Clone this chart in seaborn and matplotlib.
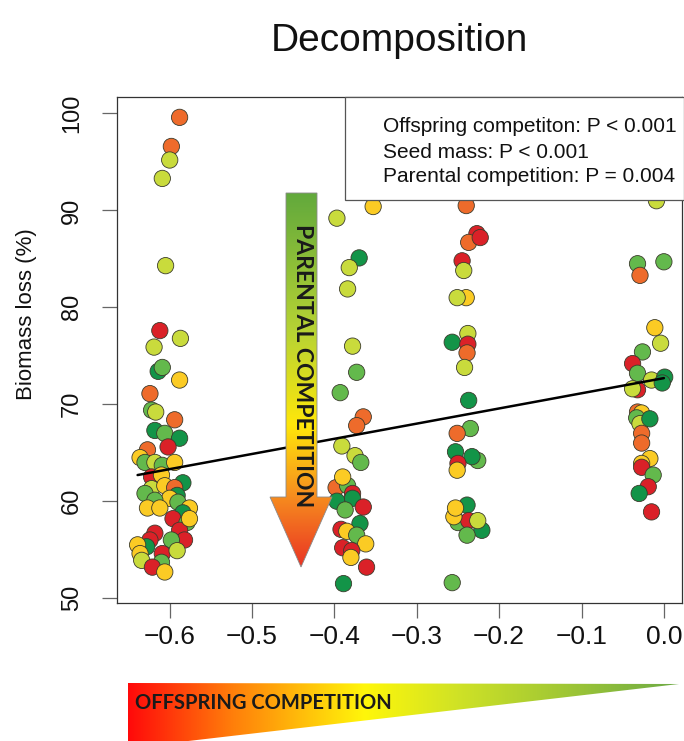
#!/usr/bin/env python3
"""Biomass loss vs offspring competition (decomposition panel)
"""

import matplotlib
matplotlib.use("Agg")
import numpy as np
import pandas as pd
import matplotlib.pyplot as plt
from matplotlib.patches import Polygon, Rectangle
from matplotlib.colors import LinearSegmentedColormap
import seaborn as sns

# colour class of each point (red .. dark green)
palette = {"R": "#DA2128", "O": "#EE6B2B", "Y": "#FBCB24", "L": "#C9DB3C",
           "G": "#63B94C", "D": "#139448"}

# cluster around -0.6
c1_x = [-0.588, -0.598, -0.600, -0.609, -0.605, -0.612, -0.619, -0.587, -0.614, -0.609,
        -0.588, -0.624, -0.622, -0.617, -0.594, -0.618, -0.606, -0.588, -0.602, -0.627,
        -0.636, -0.630, -0.618, -0.609, -0.594, -0.622, -0.610, -0.584, -0.622, -0.606,
        -0.594, -0.630, -0.591, -0.600, -0.618, -0.627, -0.612, -0.590, -0.576, -0.584,
        -0.596, -0.579, -0.588, -0.576, -0.618, -0.624, -0.582, -0.598, -0.628, -0.639,
        -0.636, -0.609, -0.591, -0.634, -0.610, -0.621, -0.606]
c1_y = [99.6, 96.6, 95.2, 93.3, 84.3, 77.6, 75.9, 76.8, 73.4, 73.8,
        72.5, 71.1, 69.4, 69.2, 68.4, 67.3, 67.0, 66.5, 65.6, 65.3,
        64.5, 64.0, 64.0, 63.7, 64.0, 62.5, 62.7, 61.9, 61.3, 61.6,
        61.4, 60.8, 60.6, 60.3, 60.1, 59.3, 59.3, 59.9, 59.3, 58.8,
        58.2, 57.8, 57.0, 58.2, 56.7, 56.0, 56.0, 56.0, 55.3, 55.5,
        54.6, 54.6, 54.9, 53.9, 53.7, 53.2, 52.7]
c1_c = list("OOLLLRLLDGYOGLODGDROYGLGYRYDLYOGDYGYYGYDRGRYRRRGDYYRLLGRY")

# cluster around -0.38
c2_x = [-0.353, -0.397, -0.370, -0.382, -0.384, -0.378, -0.373, -0.393, -0.365, -0.373,
        -0.391, -0.375, -0.368, -0.398, -0.384, -0.378, -0.390, -0.397, -0.378, -0.365,
        -0.387, -0.369, -0.392, -0.385, -0.373, -0.362, -0.390, -0.379, -0.380, -0.361,
        -0.389]
c2_y = [90.4, 89.2, 85.1, 84.1, 81.9, 76.0, 73.3, 71.2, 68.7, 67.8,
        65.7, 64.7, 64.0, 61.4, 61.6, 60.8, 62.5, 60.0, 60.3, 59.4,
        59.1, 57.7, 57.1, 56.9, 56.5, 55.6, 55.2, 54.9, 54.2, 53.2,
        51.5]
c2_c = list("YLDLLLGGOOLLGOGRYDDRGDRYGYRRYRD")

# cluster around -0.24
c3_x = [-0.240, -0.227, -0.237, -0.223, -0.245, -0.243, -0.240, -0.251, -0.257, -0.238,
        -0.238, -0.239, -0.242, -0.237, -0.235, -0.251, -0.226, -0.253, -0.233, -0.250,
        -0.251, -0.239, -0.250, -0.237, -0.221, -0.255, -0.253, -0.226, -0.239, -0.257]
c3_y = [90.5, 87.6, 86.7, 87.2, 84.8, 83.8, 81.0, 81.0, 76.4, 77.3,
        76.2, 75.3, 73.8, 70.4, 67.5, 67.0, 64.2, 65.1, 64.6, 63.9,
        63.2, 59.6, 57.8, 58.0, 57.0, 58.4, 59.3, 58.0, 56.5, 51.6]
c3_c = list("ORORRLYLDLROLDGOGDDRYDGRDYYLGG")

# cluster around -0.02
c4_x = [-0.009, -0.032, -0.029, 0.000, -0.011, -0.004, -0.026, -0.038, -0.032, -0.032,
        -0.038, -0.015, 0.001, -0.002, -0.032, -0.027, -0.033, -0.029, -0.017, -0.027,
        -0.027, -0.017, -0.027, -0.027, -0.013, -0.019, -0.030, -0.015]
c4_y = [91.0, 84.5, 83.3, 84.7, 77.9, 76.3, 75.4, 74.2, 73.2, 71.5,
        71.6, 72.5, 72.8, 72.2, 69.2, 69.1, 68.6, 68.0, 68.5, 67.0,
        66.0, 64.4, 63.9, 63.5, 62.7, 61.5, 60.8, 58.9]
c4_c = list("LGOGYLGRGRLLDDOYGLDOOYYRGRDR")

# fitted line end points
line_x = [-0.639, 0.0]
line_y = [62.7, 72.7]

x_ticks = [-0.6, -0.5, -0.4, -0.3, -0.2, -0.1, 0.0]
y_ticks = [50, 60, 70, 80, 90, 100]
stats_lines = ["Offspring competiton: P < 0.001",
               "Seed mass: P < 0.001",
               "Parental competition: P = 0.004"]


def main():
    sns.set_style("ticks")
    plt.rcParams['font.family'] = ['Liberation Sans', 'DejaVu Sans']

    df = pd.DataFrame({
        "comp": c1_x + c2_x + c3_x + c4_x,
        "loss": c1_y + c2_y + c3_y + c4_y,
        "cls": c1_c + c2_c + c3_c + c4_c,
    })

    W, H = 684, 741
    fig = plt.figure(figsize=(W / 100, H / 100), dpi=100)
    ax = fig.add_axes([117 / W, 1 - 603 / H, (682 - 117) / W, (603 - 97) / H])

    sns.scatterplot(data=df, x="comp", y="loss", hue="cls", palette=palette,
                    s=138, edgecolor="#3b3b2c", linewidth=0.6, legend=False,
                    ax=ax, zorder=2)
    sns.lineplot(x=line_x, y=line_y, color="black", lw=1.8, ax=ax, zorder=3)

    ax.set_xlim(-0.664, 0.022)
    ax.set_ylim(49.5, 101.7)
    ax.set_xticks(x_ticks)
    ax.set_yticks(y_ticks)
    ax.set_xticklabels([f"{v:.1f}".replace("-", "\u2212") for v in x_ticks])
    ax.set_yticklabels([str(v) for v in y_ticks], rotation=90, va="center")
    ax.tick_params(axis="both", length=10.5, width=0.9,
                   color="#666666", labelcolor="#111111")
    ax.tick_params(axis="x", labelsize=19, pad=5)
    ax.tick_params(axis="y", labelsize=17, pad=14)
    for sp in ax.spines.values():
        sp.set_color("#333333")
        sp.set_linewidth(0.9)
    ax.set_xlabel("")
    ax.set_ylabel("Biomass loss (%)", fontsize=16, color="#111111")
    ax.yaxis.set_label_coords((27 - 117) / 565, (603 - 314) / 506)
    ax.yaxis.label.set_verticalalignment("center")
    ax.set_title("Decomposition", fontsize=28, pad=33, color="#111111")

    # stats box in the top right corner
    ax.add_patch(Rectangle((0.4035, 0.796), 0.6, 0.204, transform=ax.transAxes,
                           facecolor="white", edgecolor="#555555", lw=0.9,
                           zorder=4, clip_on=False))

    # decoration layer in pixel coordinates
    deco = fig.add_axes([0, 0, 1, 1], zorder=5)
    deco.set_xlim(0, W)
    deco.set_ylim(H, 0)
    deco.axis("off")
    deco.patch.set_alpha(0)

    for i, txt in enumerate(stats_lines):
        deco.text(383, 127 + 25 * i, txt, fontsize=15, va="center", ha="left",
                  color="#111111")

    # parental competition arrow
    arrow_cmap = LinearSegmentedColormap.from_list(
        "arr", [(0, "#62A93C"), (0.37, "#B7D334"), (0.62, "#FFE70A"),
                (0.8, "#F7921E"), (1.0, "#EA3424")])
    grad_v = np.linspace(0, 1, 256).reshape(-1, 1)
    im = deco.imshow(grad_v, cmap=arrow_cmap, aspect="auto",
                     extent=[270, 333, 567, 193], origin="upper", zorder=1)
    arrow = Polygon([(286, 193), (317, 193), (317, 497), (332, 497), (301, 567),
                     (270, 497), (286, 497)], closed=True, facecolor="none",
                    edgecolor="#8a8a8a", lw=0.6, zorder=2)
    deco.add_patch(arrow)
    im.set_clip_path(arrow)
    deco.text(302, 366, "PARENTAL COMPETITION", rotation=270, ha="center",
              va="center", fontsize=16.5, fontweight="bold", color="#1a1a1a",
              family=["Lato", "DejaVu Sans"], zorder=3)

    # offspring competition wedge
    wedge_cmap = LinearSegmentedColormap.from_list(
        "wdg", [(0, "#FF0A0A"), (0.19, "#FF7F0A"), (0.43, "#FFF70A"),
                (0.6, "#CFE226"), (1.0, "#6DAA45")])
    grad_h = np.linspace(0, 1, 256).reshape(1, -1)
    im2 = deco.imshow(grad_h, cmap=wedge_cmap, aspect="auto",
                      extent=[128, 679, 748, 683], origin="upper", zorder=1)
    wedge = Polygon([(128, 683), (679, 684), (128, 748)], closed=True,
                    facecolor="none", edgecolor="none", zorder=2)
    deco.add_patch(wedge)
    im2.set_clip_path(wedge)
    deco.text(135, 703, "OFFSPRING COMPETITION", ha="left", va="center",
              fontsize=14.5, fontweight="bold", color="#1a1a1a",
              family=["Lato", "DejaVu Sans"], zorder=3)
    deco.set_xlim(0, W)
    deco.set_ylim(H, 0)

    fig.savefig("out.png", dpi=100)


if __name__ == '__main__':
    main()
